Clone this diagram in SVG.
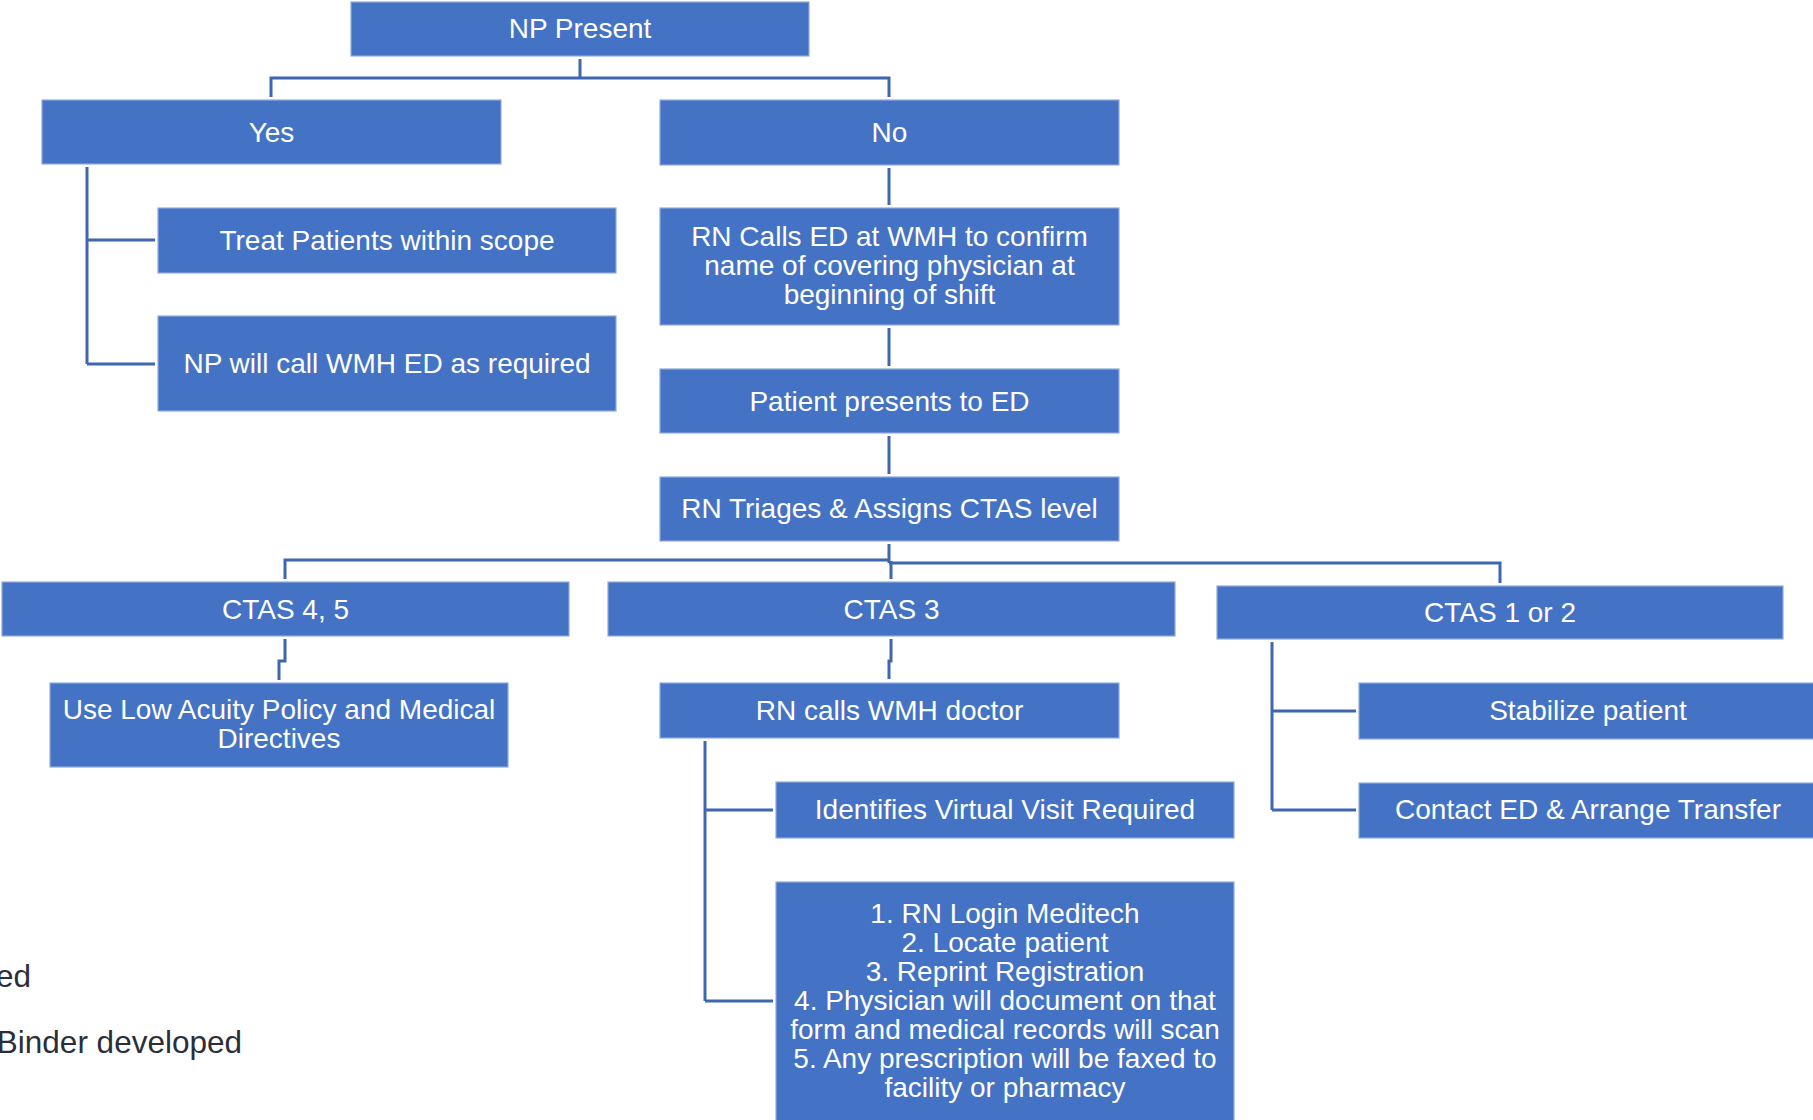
<svg xmlns="http://www.w3.org/2000/svg" width="1813" height="1120" viewBox="0 0 1813 1120">
<style>
.box{fill:#4472C4;stroke:#8FAADC;stroke-width:1.2}
.t{font-family:"Liberation Sans",Arial,sans-serif;font-size:28px;fill:#FFFFFF;text-anchor:middle}
.c{fill:none;stroke:#3F66B0;stroke-width:3}
.g{font-family:"Liberation Sans",Arial,sans-serif;font-size:31.5px;fill:#2B2E3A;text-anchor:end}
</style>
<rect width="1813" height="1120" fill="#FFFFFF"/>
<g id="connectors">
<path class="c" d="M580,59 V78 M271,97 V78 H889 V97"/>
<path class="c" d="M87,167 V364 M87,240 H155 M87,364 H155"/>
<path class="c" d="M889,168 V205 M889,328 V366 M889,436 V474"/>
<path class="c" d="M889,544 V563 M891,561 V579 M285,579 V560 H889 M889,563 H1500 V583"/>
<path class="c" d="M285,639 V661 H279 V680"/>
<path class="c" d="M891,639 V661 H889 V679"/>
<path class="c" d="M705,741 V1001 M705,810 H773 M705,1001 H773"/>
<path class="c" d="M1272,642 V810 M1272,711 H1356 M1272,810 H1356"/>
</g>
<g id="np-present"><rect class="box" x="351" y="2" width="458" height="54"/><text class="t" x="580" y="38">NP Present</text></g>
<g id="yes"><rect class="box" x="42" y="100" width="459" height="64"/><text class="t" x="271.5" y="142">Yes</text></g>
<g id="no"><rect class="box" x="660" y="100" width="459" height="65"/><text class="t" x="889.5" y="142">No</text></g>
<g id="treat"><rect class="box" x="158" y="208" width="458" height="65"/><text class="t" x="387" y="250">Treat Patients within scope</text></g>
<g id="np-call"><rect class="box" x="158" y="316" width="458" height="95"/><text class="t" x="387" y="373">NP will call WMH ED as required</text></g>
<g id="rn-calls-ed"><rect class="box" x="660" y="208" width="459" height="117"/><text class="t" x="889.5" y="246">RN Calls ED at WMH to confirm</text><text class="t" x="889.5" y="275">name of covering physician at</text><text class="t" x="889.5" y="304">beginning of shift</text></g>
<g id="patient-presents"><rect class="box" x="660" y="369" width="459" height="64"/><text class="t" x="889.5" y="411">Patient presents to ED</text></g>
<g id="triage"><rect class="box" x="660" y="477" width="459" height="64"/><text class="t" x="889.5" y="518">RN Triages &amp; Assigns CTAS level</text></g>
<g id="ctas45"><rect class="box" x="2" y="582" width="567" height="54"/><text class="t" x="285.5" y="619">CTAS 4, 5</text></g>
<g id="ctas3"><rect class="box" x="608" y="582" width="567" height="54"/><text class="t" x="891.5" y="619">CTAS 3</text></g>
<g id="ctas12"><rect class="box" x="1217" y="586" width="566" height="53"/><text class="t" x="1500" y="622">CTAS 1 or 2</text></g>
<g id="low-acuity"><rect class="box" x="50" y="683" width="458" height="84"/><text class="t" x="279" y="719">Use Low Acuity Policy and Medical</text><text class="t" x="279" y="748">Directives</text></g>
<g id="rn-calls-doctor"><rect class="box" x="660" y="683" width="459" height="55"/><text class="t" x="889.5" y="720">RN calls WMH doctor</text></g>
<g id="virtual-visit"><rect class="box" x="776" y="782" width="458" height="56"/><text class="t" x="1005" y="819">Identifies Virtual Visit Required</text></g>
<g id="steps"><rect class="box" x="776" y="882" width="458" height="250"/>
<text class="t" x="1005" y="923">1. RN Login Meditech</text>
<text class="t" x="1005" y="952">2. Locate patient</text>
<text class="t" x="1005" y="981">3. Reprint Registration</text>
<text class="t" x="1005" y="1010">4. Physician will document on that</text>
<text class="t" x="1005" y="1039">form and medical records will scan</text>
<text class="t" x="1005" y="1068">5. Any prescription will be faxed to</text>
<text class="t" x="1005" y="1097">facility or pharmacy</text></g>
<g id="stabilize"><rect class="box" x="1359" y="683" width="458" height="56"/><text class="t" x="1588" y="720">Stabilize patient</text></g>
<g id="contact"><rect class="box" x="1359" y="783" width="458" height="55"/><text class="t" x="1588" y="819">Contact ED &amp; Arrange Transfer</text></g>
<g id="background-text"><text class="g" x="31" y="987">ed</text><text class="g" x="242" y="1053">Binder developed</text></g>
</svg>
